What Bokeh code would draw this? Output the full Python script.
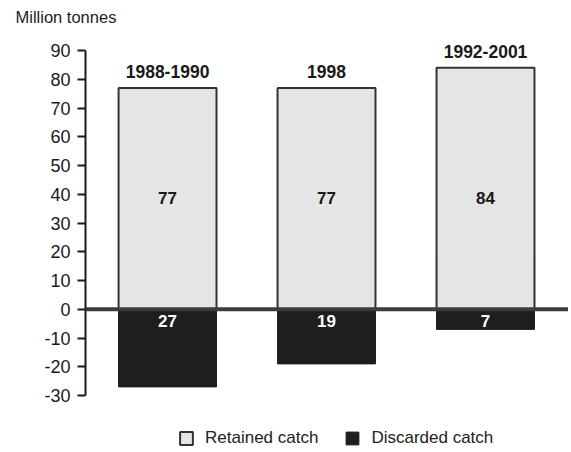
from bokeh.plotting import figure
from bokeh.models import ColumnDataSource, Range1d, FixedTicker, Span, Legend, LegendItem
from bokeh.embed import file_html
from bokeh.resources import INLINE
from bokeh.core.properties import value

periods = ["1988-1990", "1998", "1992-2001"]
retained = [77, 77, 84]
discarded = [27, 19, 7]
tick_values = [-30, -20, -10, 0, 10, 20, 30, 40, 50, 60, 70, 80, 90]
tick_labels = ["-30", "-20", "-10", "0", "10", "20", "30", "40", "50", "60", "70", "80", "90"]

FONT = "Liberation Sans"
xs = list(range(len(periods)))
src = ColumnDataSource(dict(
    x=xs,
    period=periods,
    retained=retained,
    neg=[-d for d in discarded],
    rlab=[str(v) for v in retained],
    dlab=[str(v) for v in discarded],
    mid=[38.8] * len(xs),
    dmid=[-4.2] * len(xs),
))

p = figure(width=568, height=450, output_backend="svg", toolbar_location=None,
           x_range=Range1d(-0.516, 2.522), y_range=Range1d(-49.13, 96.96),
           min_border_left=85, min_border_right=0, min_border_top=30, min_border_bottom=0)
p.outline_line_color = None
p.xgrid.visible = False
p.ygrid.visible = False
p.xaxis.visible = False
p.background_fill_color = "white"

r1 = p.vbar(x="x", top="retained", bottom=0, width=0.616, source=src,
            fill_color="#e5e5e5", line_color="#333333", line_width=2)
r2 = p.vbar(x="x", top=0, bottom="neg", width=0.616, source=src,
            fill_color="#1e1e1e", line_color="#1e1e1e", line_width=1)

p.add_layout(Span(location=0, dimension="width", line_color="#3c3c3c", line_width=4))

p.text(x="x", y="retained", text="period", source=src, text_align="center",
       text_baseline="bottom", y_offset=-10, text_font=value(FONT),
       text_font_style="bold", text_font_size="17.5px", text_color="#1a1a1a")
p.text(x="x", y="mid", text="rlab", source=src, text_align="center",
       text_baseline="middle", text_font=value(FONT),
       text_font_style="bold", text_font_size="17px", text_color="#1a1a1a")
p.text(x="x", y="dmid", text="dlab", source=src, text_align="center",
       text_baseline="middle", text_font=value(FONT),
       text_font_style="bold", text_font_size="17px", text_color="white")

ax = p.yaxis[0]
ax.bounds = (-30, 90)
ax.ticker = FixedTicker(ticks=tick_values)
ax.major_label_overrides = {v: s for v, s in zip(tick_values, tick_labels)}
ax.major_tick_out = 8
ax.major_tick_in = 0
ax.minor_tick_line_color = None
ax.axis_line_width = 2
ax.axis_line_color = "#1a1a1a"
ax.major_tick_line_width = 2
ax.major_tick_line_color = "#1a1a1a"
ax.major_label_text_font = FONT
ax.major_label_text_font_size = "18px"
ax.major_label_text_color = "#1a1a1a"
ax.major_label_standoff = 7

p.title.text = "Million tonnes"
p.title.text_font = FONT
p.title.text_font_size = "16.5px"
p.title.text_font_style = "normal"
p.title.text_color = "#222222"
p.title.align = "left"
p.title.offset = -70
p.title.standoff = 10

legend = Legend(items=[LegendItem(label="Retained catch", renderers=[r1]),
                       LegendItem(label="Discarded catch", renderers=[r2])],
                orientation="horizontal", location=(93, 2),
                glyph_width=16, glyph_height=16, label_height=16,
                label_standoff=11, spacing=26, padding=0, margin=0,
                label_text_font=FONT, label_text_font_size="17px",
                label_text_color="#222222",
                background_fill_alpha=0, border_line_alpha=0)
p.add_layout(legend, "center")

open("out.html", "w").write(file_html(p, INLINE))
